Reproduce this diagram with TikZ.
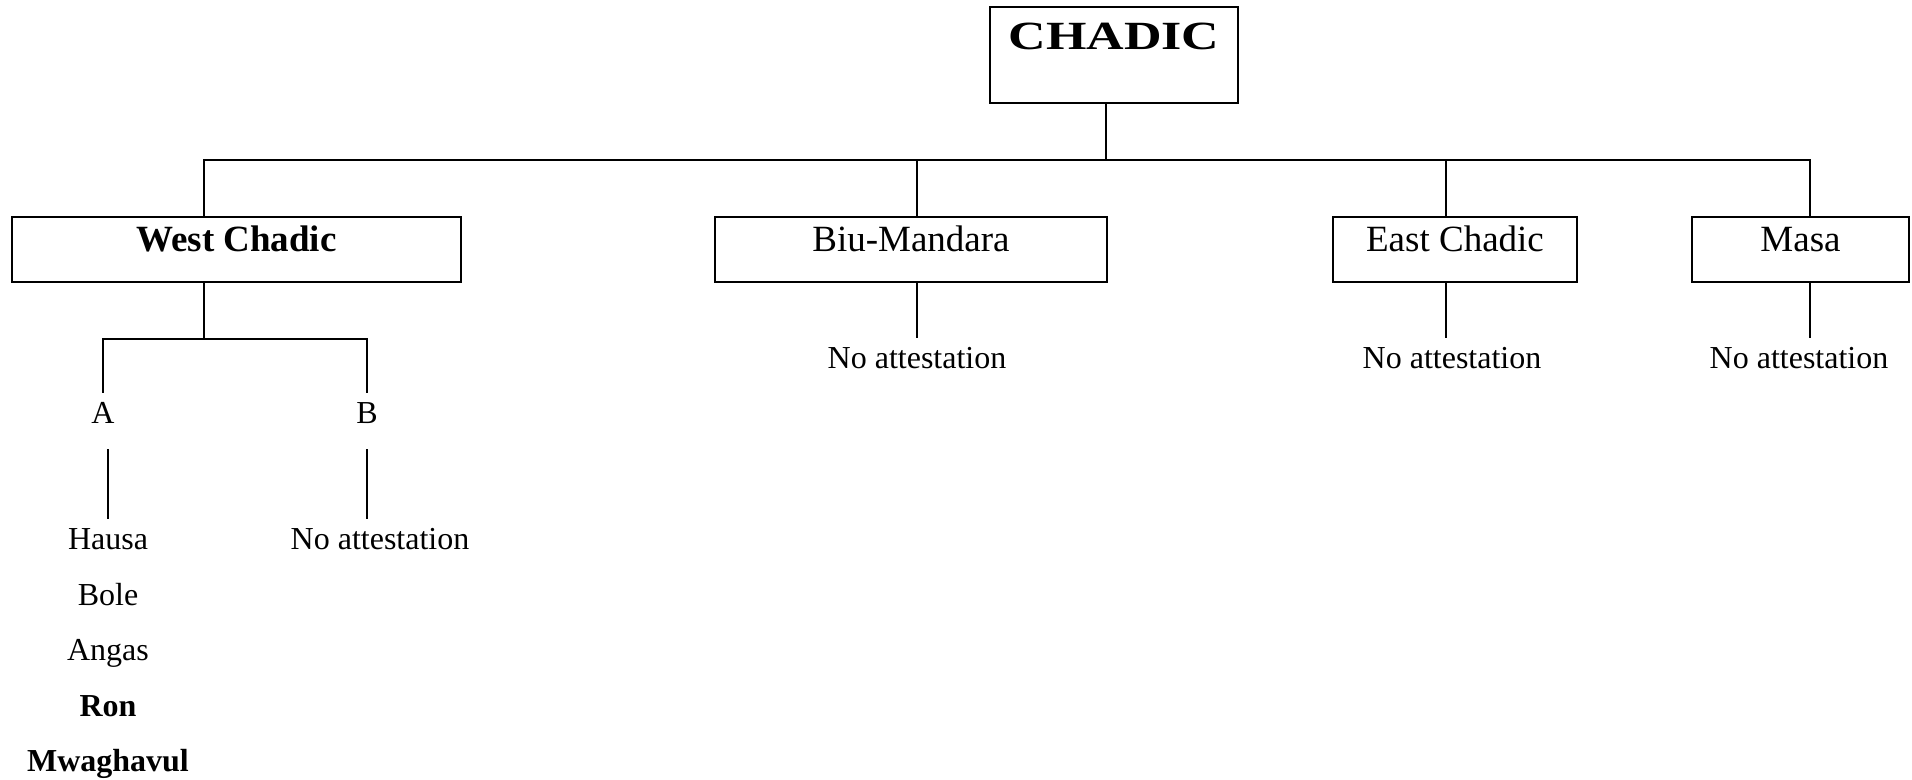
\documentclass[tikz,border=0pt]{standalone}
\usepackage{fontspec}
\setmainfont{Liberation Serif}
\newfontfamily\widebold[FakeStretch=1.3]{Liberation Serif}
\usetikzlibrary{positioning}
\tikzset{
	line width = .9pt,
	family/.style={
		draw,
		line width=1.2pt,
		inner xsep=0pt,
		inner ysep=0pt,
		anchor=base,
		font=\fontsize{18.5}{22}\selectfont,
		text height=17.5pt,
		text depth=15pt
	},
	leaf/.style={
		inner xsep=0pt,
		inner ysep=4.5pt,
		anchor=base,
		font=\fontsize{16}{19}\selectfont,
		text height=11pt,
		text depth=8.5pt
	},
	edge/.style={
		line width=.9pt,
		line cap=rect
	}
}

\begin{document}
\begin{tikzpicture}[x=.5pt, y=-.5pt]
\useasboundingbox (0,0) rectangle (1912,780);
% ---
% root and the four branches
% ---
\node[family, minimum width=124pt, text height=21.5pt, text depth=26.5pt,
	font=\widebold\bfseries\fontsize{20}{24}\selectfont] (chadic) at (1114,50) {CHADIC};
\node[family, minimum width=224.5pt] (west) at (236.5,252) {\textbf{West Chadic}};
\node[family, minimum width=196pt] (biu) at (911,252) {Biu-Mandara};
\node[family, minimum width=122pt] (east) at (1455,252) {East Chadic};
\node[family, minimum width=108.5pt] (masa) at (1800.5,252) {Masa};

\coordinate (root) at (1106,160);
\coordinate (j-west) at (204,160);
\coordinate (j-biu) at (917,160);
\coordinate (j-east) at (1446,160);
\coordinate (j-masa) at (1810,160);
\coordinate (j-ab) at (204,339);

% ---
% leaves
% ---
\node[leaf] (none-biu) at (917,369) {No attestation};
\node[leaf] (none-east) at (1452,369) {No attestation};
\node[leaf] (none-masa) at (1799,369) {No attestation};

\node[leaf] (a) at (103,424) {A};
\node[leaf] (b) at (367,424) {B};
\node[leaf] (none-b) at (380,550) {No attestation};
\node[leaf] (hausa) at (108,550) {Hausa};
\node[leaf] (bole) at (108,605) {Bole};
\node[leaf] (angas) at (108,660) {Angas};
\node[leaf] (ron) at (108,716) {\textbf{Ron}};
\node[leaf] (mwaghavul) at (108,771) {\textbf{Mwaghavul}};

\draw[edge] (root |- chadic.south) -- (root);
\draw[edge] (j-west) -- (j-masa);
\foreach \j/\n in {j-west/west, j-biu/biu, j-east/east, j-masa/masa}
	\draw[edge] (\j) -- (\j |- \n.north);
\foreach \j/\n/\m in {j-biu/biu/none-biu, j-east/east/none-east, j-masa/masa/none-masa}
	\draw[edge] (\j |- \n.south) -- (\j |- \m.north);

\draw[edge] (j-ab |- west.south) -- (j-ab);
\draw[edge] (a.north) -- (a.north |- j-ab) -- (b.north |- j-ab) -- (b.north);
\draw[edge] (a.south -| hausa) -- (hausa.north);
\draw[edge] (b.south) -- (b.south |- none-b.north);
\end{tikzpicture}
\end{document}
